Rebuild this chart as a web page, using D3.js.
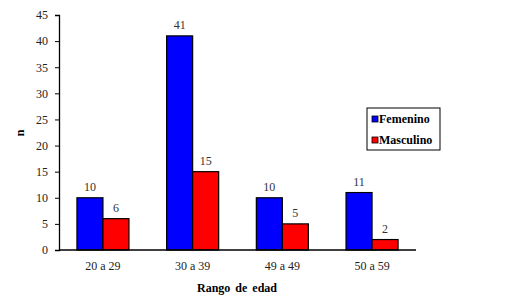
<!DOCTYPE html>
<html>
<head>
<meta charset="utf-8">
<script src="https://cdn.jsdelivr.net/npm/d3@7"></script>
</head>
<body style="margin:0">
<div id="chart"></div>
<script>
// datos
const categorias = ["20 a 29", "30 a 39", "49 a 49", "50 a 59"];
const series = ["Femenino", "Masculino"];
const femenino = [10, 41, 10, 11];
const masculino = [6, 15, 5, 2];
const ticksY = [0, 5, 10, 15, 20, 25, 30, 35, 40, 45];
const colores = ["#0000ff", "#ff0000"];

const fuente = "'Liberation Serif', serif";
const ancho = 511, alto = 307;
const margeG = 59, margeD = 416, margeH = 15, margeB = 250;

const svg = d3.select("#chart").append("svg")
  .attr("width", ancho)
  .attr("height", alto)
  .style("font-family", fuente);

const escalaX = d3.scaleBand().domain(categorias).range([margeG, margeD]).paddingInner(0.42).paddingOuter(0.2);
const escalaS = d3.scaleBand().domain(series).range([0, escalaX.bandwidth()]);
const escalaY = d3.scaleLinear().domain([0, 45]).range([margeB, margeH]);

// eje y
const ejeY = svg.append("g")
  .attr("transform", "translate(" + margeG + ",0)")
  .call(d3.axisLeft(escalaY).tickValues(ticksY).tickSize(4).tickPadding(7));
ejeY.attr("font-family", null);
ejeY.select(".domain").attr("stroke", "#000").attr("stroke-width", 1.3);
ejeY.selectAll("text")
  .attr("font-size", 12)
  .attr("fill", "#222")
  .style("font-family", fuente);

const datos = categorias.map((c, i) => ({ cat: c, vals: [femenino[i], masculino[i]] }));

const grupos = svg.selectAll("g.grupo").data(datos).enter()
  .append("g")
  .attr("class", "grupo")
  .attr("transform", d => "translate(" + escalaX(d.cat) + ",0)");

grupos.selectAll("rect").data(d => d.vals.map((v, j) => ({ s: series[j], v: v, j: j }))).enter()
  .append("rect")
  .attr("x", d => escalaS(d.s))
  .attr("y", d => escalaY(d.v))
  .attr("width", escalaS.bandwidth())
  .attr("height", d => margeB - escalaY(d.v))
  .attr("fill", d => colores[d.j])
  .attr("stroke", "#000")
  .attr("stroke-width", 1.2);

grupos.selectAll("text.valor").data(d => d.vals.map((v, j) => ({ s: series[j], v: v }))).enter()
  .append("text")
  .attr("class", "valor")
  .attr("x", d => escalaS(d.s) + escalaS.bandwidth() / 2)
  .attr("y", d => escalaY(d.v) - 7)
  .attr("text-anchor", "middle")
  .style("font-family", fuente)
  .attr("font-size", 12)
  .attr("fill", "#333")
  .text(d => d.v);

// eje x
svg.append("line")
  .attr("x1", margeG).attr("x2", margeD)
  .attr("y1", margeB).attr("y2", margeB)
  .attr("stroke", "#000").attr("stroke-width", 1.3);

svg.selectAll("text.cat").data(categorias).enter()
  .append("text")
  .attr("class", "cat")
  .attr("x", d => escalaX(d) + escalaX.bandwidth() / 2)
  .attr("y", 270)
  .attr("text-anchor", "middle")
  .style("font-family", fuente)
  .attr("font-size", 12)
  .attr("fill", "#222")
  .text(d => d);

// titulos
svg.append("text")
  .attr("x", 237).attr("y", 292)
  .attr("text-anchor", "middle")
  .style("font-family", fuente)
  .attr("font-size", 12)
  .attr("font-weight", "bold")
  .style("word-spacing", "2px")
  .text("Rango de edad");

svg.append("text")
  .attr("transform", "translate(24,133) rotate(-90)")
  .attr("text-anchor", "middle")
  .style("font-family", fuente)
  .attr("font-size", 12)
  .attr("font-weight", "bold")
  .text("n");

// leyenda
const leg = svg.append("g").attr("transform", "translate(367,108)");
leg.append("rect")
  .attr("width", 73).attr("height", 42)
  .attr("fill", "#fff").attr("stroke", "#000").attr("stroke-width", 1);
series.forEach((s, i) => {
  leg.append("rect")
    .attr("x", 5).attr("y", 8 + i * 21)
    .attr("width", 6).attr("height", 6)
    .attr("fill", colores[i]).attr("stroke", "#000").attr("stroke-width", 0.8);
  leg.append("text")
    .attr("x", 12).attr("y", 15 + i * 21)
    .style("font-family", fuente)
    .attr("font-size", 12)
    .attr("font-weight", "bold")
    .text(s);
});
</script>
</body>
</html>
